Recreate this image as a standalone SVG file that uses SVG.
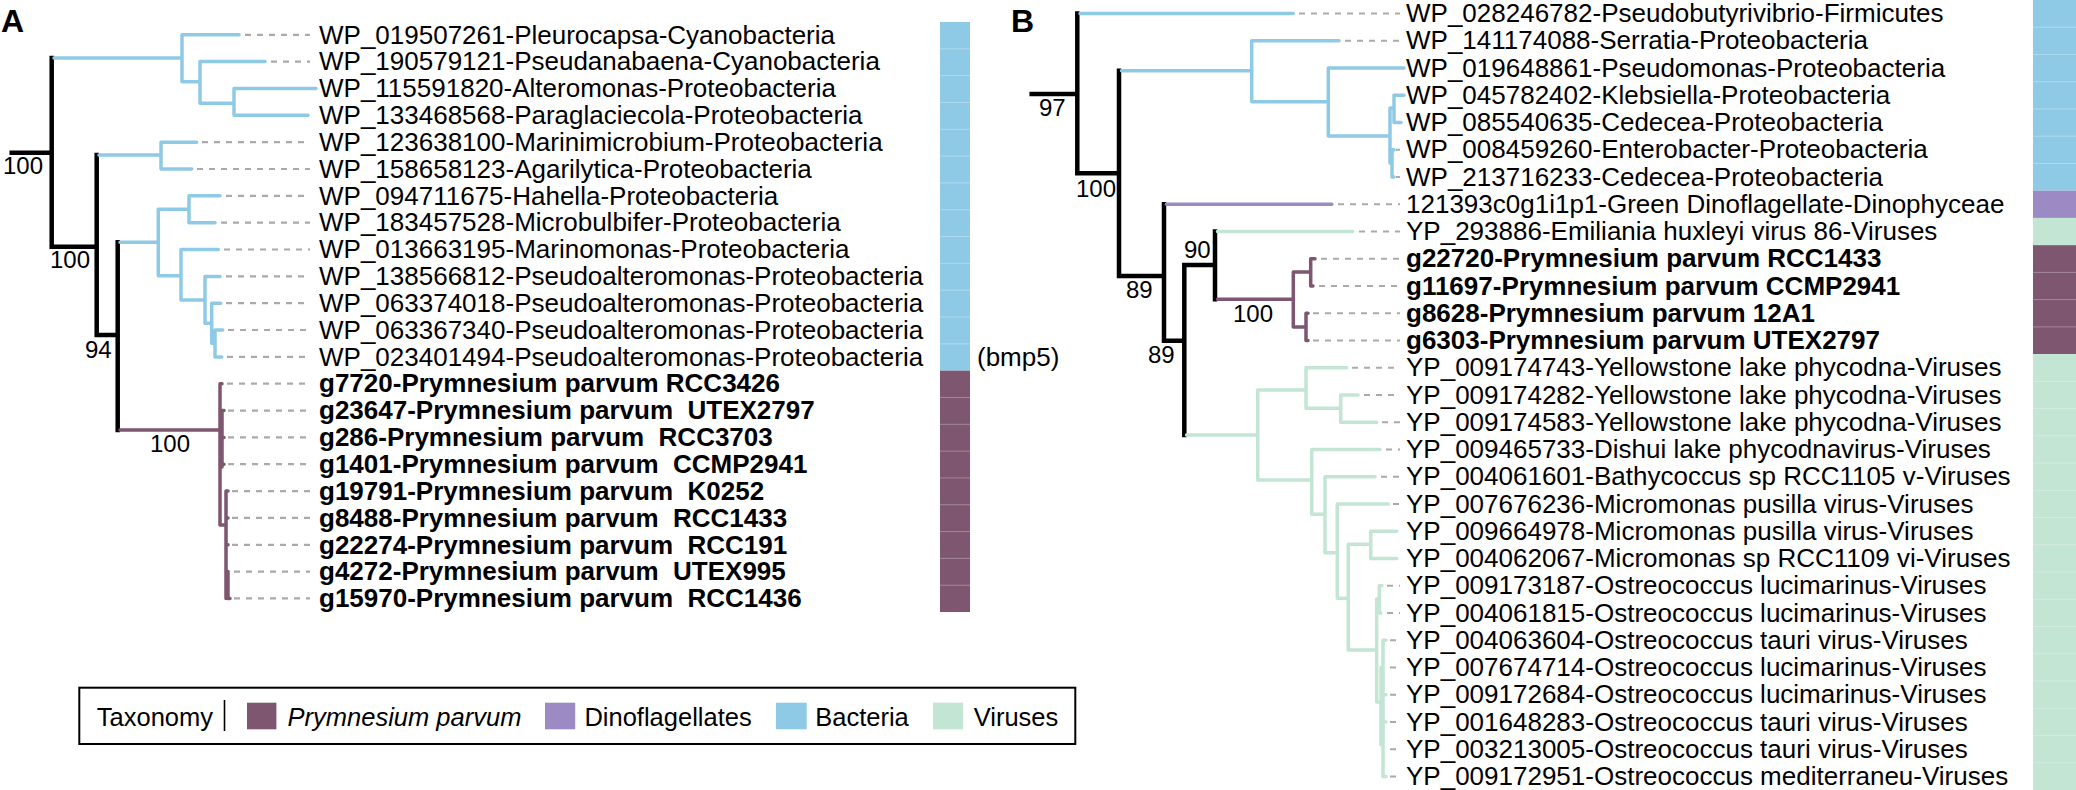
<svg xmlns="http://www.w3.org/2000/svg" width="2076" height="790" viewBox="0 0 2076 790">
<style>
text{font-family:"Liberation Sans",Arial,Helvetica,sans-serif;fill:#000}
.lf{font-size:26px}
.lb{font-size:26px;font-weight:bold}
.bs{font-size:24px}
.pl{font-size:32px;font-weight:bold}
.lg{font-size:25.5px}
.k{fill:none;stroke:#000;stroke-width:4.5;stroke-linecap:square}
.bl{fill:none;stroke:#8ECAE6;stroke-width:3.5;stroke-linecap:round;stroke-linejoin:round}
.pp{fill:none;stroke:#7E5670;stroke-width:3.5;stroke-linecap:round;stroke-linejoin:round}
.dn{fill:none;stroke:#9B8AC4;stroke-width:3.5;stroke-linecap:round}
.vg{fill:none;stroke:#C2E5D4;stroke-width:3.5;stroke-linecap:round;stroke-linejoin:round}
.ds{fill:none;stroke:#AAAAAA;stroke-width:2.2;stroke-dasharray:6 6}
.cB{fill:#8ECAE6}.cP{fill:#7E5670}.cD{fill:#9B8AC4}.cV{fill:#C2E5D4}
.sep{stroke:#ffffff;stroke-opacity:0.3;stroke-width:1}
</style>

<text class="pl" x="1" y="32">A</text>
<text class="pl" x="1011" y="32">B</text>

<g id="connectors">
<!-- Panel A dashes -->
<path class="ds" d="M245,34.8H310M271,61.6H310M202,142.2H310M197,169H310M226,195.8H310M221,222.7H310M224,249.5H310M226,276.4H310M226,303.2H310M228,330H310M227,356.9H310M227,383.7H310M228,410.6H310M228,437.4H310M228,464.2H310M232,491.1H310M232,517.9H310M232,544.8H310M234,571.6H310M234,598.4H310"/>
<!-- Panel A black -->
<path class="k" d="M11.7,152.7H51.7M51.7,58V246.7M51.7,246.7H96.7M96.7,155V335M96.7,335H117.7M117.7,242.3V430"/>
<!-- Panel A bacteria -->
<path class="bl" d="M54,58H182M182,34.8V81.7M182,34.8H239M182,81.7H200M200,61.6V103.3M200,61.6H265M200,103.3H234M234,88.5V115.3M234,88.5H316M234,115.3H308M99,155H161M161,142.2V169M161,142.2H196.7M161,169H191.7M120,242.3H158.3M158.3,209.3V275.7M158.3,209.3H189M189,195.8V222.7M189,195.8H220M189,222.7H215M158.3,275.7H181M181,249.5V300M181,249.5H218.3M181,300H205M205,276.4V323.3M205,276.4H220M205,323.3H211.7M211.7,303.2V343.3M211.7,303.2H220.7M211.7,343.3H215M215,330V356.9M215,330H222.7M215,356.9H221.7"/>
<!-- Panel A Prymnesium -->
<path class="pp" d="M120,430H220M220,383.7V525M220,383.7H222M222,410.6V467M222,410.6H224M222,437.4H224M222,464.2H224M220,525H226M226,491.1V598.4M226,491.1H228M226,517.9H228M226,544.8H228M228,571.6V598.4M228,598.4H230"/>

<!-- Panel B dashes -->
<path class="ds" d="M1299,13.5H1400M1345,40.75H1400M1396,149.75H1400M1396,177H1400M1338,204.25H1400M1359,231.5H1400M1321,258.75H1400M1319,286H1400M1313,313.25H1400M1313,340.5H1400M1352,367.75H1400M1364,395H1400M1382,422.25H1400M1386,449.5H1400M1381,476.75H1400M1393,504H1400M1387,585.75H1400M1387,613H1400M1390,640.25H1400M1390,667.5H1400M1390,694.75H1400M1390,722H1400M1390,749.25H1400M1390,776.5H1400"/>
<!-- Panel B black -->
<path class="k" d="M1031.7,94H1077.3M1077.3,13.5V173.3M1077.3,173.3H1119M1119,70.7V276M1119,276H1164M1164,204.25V340.7M1164,340.7H1184.3M1184.3,265V435M1184.3,265H1215M1215,231.5V299.3"/>
<!-- Panel B bacteria -->
<path class="bl" d="M1080,13.5H1293.3M1121.5,70.7H1251.7M1251.7,40.75V101.7M1251.7,40.75H1339M1251.7,101.7H1328.3M1328.3,68V136M1328.3,68H1404M1328.3,136H1390M1390,108V163M1390,108H1394M1394,95.25V122.5M1394,95.25H1404M1394,122.5H1401M1390,163H1392M1392,149.75V177M1392,149.75H1394M1392,177H1394"/>
<!-- Panel B dinoflagellate -->
<path class="dn" d="M1166.5,204.25H1331.7"/>
<!-- Panel B Prymnesium -->
<path class="pp" d="M1217.5,299.3H1293.3M1293.3,272V327M1293.3,272H1310.7M1310.7,258.75V286M1310.7,258.75H1315M1310.7,286H1313M1293.3,327H1306M1306,313.25V340.5M1306,313.25H1308M1306,340.5H1308"/>
<!-- Panel B viruses -->
<path class="vg" d="M1217.5,231.5H1352.7M1186.5,435H1257.7M1257.7,390V480M1257.7,390H1306M1306,367.75V408.3M1306,367.75H1346.7M1306,408.3H1340.7M1340.7,395V422.25M1340.7,395H1358M1340.7,422.25H1376.7M1257.7,480H1311.7M1311.7,449.5V514.3M1311.7,449.5H1380M1311.7,514.3H1325M1325,476.75V552.7M1325,476.75H1375M1325,552.7H1337.3M1337.3,504V598.3M1337.3,504H1388.3M1337.3,598.3H1348.3M1348.3,544.3V650M1348.3,544.3H1370.7M1370.7,531.25V558.5M1370.7,531.25H1396.7M1370.7,558.5H1396.7M1348.3,650H1376.7M1376.7,599V702M1376.7,599H1379.3M1379.3,585.75V613M1379.3,585.75H1382M1379.3,613H1381M1376.7,702H1381M1381,667.5V745M1381,667.5H1383M1381,745H1383M1383,640.25V776.5M1383,640.25H1386M1383,694.75H1386M1383,722H1386M1383,776.5H1386"/>
</g>

<g id="bootstrap">
<text class="bs" x="3" y="174">100</text>
<text class="bs" x="50" y="268">100</text>
<text class="bs" x="85" y="358">94</text>
<text class="bs" x="150" y="452">100</text>
<text class="bs" x="1039" y="116">97</text>
<text class="bs" x="1076" y="197">100</text>
<text class="bs" x="1126" y="298">89</text>
<text class="bs" x="1148" y="363">89</text>
<text class="bs" x="1184" y="258">90</text>
<text class="bs" x="1233" y="322">100</text>
</g>

<!-- Panel A leaves -->
<g id="A-bar">
<rect class="cB" x="940" y="22" width="30" height="348.66"/>
<rect class="cP" x="940" y="370.66" width="30" height="241.38"/>
<path class="sep" d="M940,48.82H970M940,75.64H970M940,102.46H970M940,129.28H970M940,156.1H970M940,182.92H970M940,209.74H970M940,236.56H970M940,263.38H970M940,290.2H970M940,317.02H970M940,343.84H970M940,397.48H970M940,424.3H970M940,451.12H970M940,477.94H970M940,504.76H970M940,531.58H970M940,558.4H970M940,585.22H970"/>
</g>
<g id="A-leaf-1"><text class="lf" x="319" y="43.5">WP_019507261-Pleurocapsa-Cyanobacteria</text></g>
<g id="A-leaf-2"><text class="lf" x="319" y="70.3">WP_190579121-Pseudanabaena-Cyanobacteria</text></g>
<g id="A-leaf-3"><text class="lf" x="319" y="97.2">WP_115591820-Alteromonas-Proteobacteria</text></g>
<g id="A-leaf-4"><text class="lf" x="319" y="124">WP_133468568-Paraglaciecola-Proteobacteria</text></g>
<g id="A-leaf-5"><text class="lf" x="319" y="150.9">WP_123638100-Marinimicrobium-Proteobacteria</text></g>
<g id="A-leaf-6"><text class="lf" x="319" y="177.7">WP_158658123-Agarilytica-Proteobacteria</text></g>
<g id="A-leaf-7"><text class="lf" x="319" y="204.5">WP_094711675-Hahella-Proteobacteria</text></g>
<g id="A-leaf-8"><text class="lf" x="319" y="231.4">WP_183457528-Microbulbifer-Proteobacteria</text></g>
<g id="A-leaf-9"><text class="lf" x="319" y="258.2">WP_013663195-Marinomonas-Proteobacteria</text></g>
<g id="A-leaf-10"><text class="lf" x="319" y="285.1">WP_138566812-Pseudoalteromonas-Proteobacteria</text></g>
<g id="A-leaf-11"><text class="lf" x="319" y="311.9">WP_063374018-Pseudoalteromonas-Proteobacteria</text></g>
<g id="A-leaf-12"><text class="lf" x="319" y="338.7">WP_063367340-Pseudoalteromonas-Proteobacteria</text></g>
<g id="A-leaf-13"><text class="lf" x="319" y="365.6">WP_023401494-Pseudoalteromonas-Proteobacteria</text></g>
<g id="A-leaf-14"><text class="lb" x="319" y="392.4">g7720-Prymnesium parvum RCC3426</text></g>
<g id="A-leaf-15"><text class="lb" x="319" y="419.3" xml:space="preserve">g23647-Prymnesium parvum  UTEX2797</text></g>
<g id="A-leaf-16"><text class="lb" x="319" y="446.1" xml:space="preserve">g286-Prymnesium parvum  RCC3703</text></g>
<g id="A-leaf-17"><text class="lb" x="319" y="472.9" xml:space="preserve">g1401-Prymnesium parvum  CCMP2941</text></g>
<g id="A-leaf-18"><text class="lb" x="319" y="499.8" xml:space="preserve">g19791-Prymnesium parvum  K0252</text></g>
<g id="A-leaf-19"><text class="lb" x="319" y="526.6" xml:space="preserve">g8488-Prymnesium parvum  RCC1433</text></g>
<g id="A-leaf-20"><text class="lb" x="319" y="553.5" xml:space="preserve">g22274-Prymnesium parvum  RCC191</text></g>
<g id="A-leaf-21"><text class="lb" x="319" y="580.3" xml:space="preserve">g4272-Prymnesium parvum  UTEX995</text></g>
<g id="A-leaf-22"><text class="lb" x="319" y="607.1" xml:space="preserve">g15970-Prymnesium parvum  RCC1436</text></g>
<g id="A-bmp5"><text class="lf" x="977" y="365.6">(bmp5)</text></g>

<!-- Panel B leaves -->
<g id="B-bar">
<rect class="cB" x="2033" y="0" width="50" height="190.68"/>
<rect class="cD" x="2033" y="190.68" width="50" height="27.24"/>
<rect class="cV" x="2033" y="217.92" width="50" height="27.24"/>
<rect class="cP" x="2033" y="245.16" width="50" height="108.96"/>
<rect class="cV" x="2033" y="354.12" width="50" height="435.88"/>
<path class="sep" d="M2033,27.24H2076M2033,54.48H2076M2033,81.72H2076M2033,108.96H2076M2033,136.2H2076M2033,163.44H2076M2033,272.4H2076M2033,299.64H2076M2033,326.88H2076M2033,381.36H2076M2033,408.6H2076M2033,435.84H2076M2033,463.08H2076M2033,490.32H2076M2033,517.56H2076M2033,544.8H2076M2033,572.04H2076M2033,599.28H2076M2033,626.52H2076M2033,653.76H2076M2033,681H2076M2033,708.24H2076M2033,735.48H2076M2033,762.72H2076"/>
</g>
<g id="B-leaf-1"><text class="lf" x="1406" y="22.2">WP_028246782-Pseudobutyrivibrio-Firmicutes</text></g>
<g id="B-leaf-2"><text class="lf" x="1406" y="49.45">WP_141174088-Serratia-Proteobacteria</text></g>
<g id="B-leaf-3"><text class="lf" x="1406" y="76.7">WP_019648861-Pseudomonas-Proteobacteria</text></g>
<g id="B-leaf-4"><text class="lf" x="1406" y="103.95">WP_045782402-Klebsiella-Proteobacteria</text></g>
<g id="B-leaf-5"><text class="lf" x="1406" y="131.2">WP_085540635-Cedecea-Proteobacteria</text></g>
<g id="B-leaf-6"><text class="lf" x="1406" y="158.45">WP_008459260-Enterobacter-Proteobacteria</text></g>
<g id="B-leaf-7"><text class="lf" x="1406" y="185.7">WP_213716233-Cedecea-Proteobacteria</text></g>
<g id="B-leaf-8"><text class="lf" x="1406" y="212.95">121393c0g1i1p1-Green Dinoflagellate-Dinophyceae</text></g>
<g id="B-leaf-9"><text class="lf" x="1406" y="240.2">YP_293886-Emiliania huxleyi virus 86-Viruses</text></g>
<g id="B-leaf-10"><text class="lb" x="1406" y="267.45">g22720-Prymnesium parvum RCC1433</text></g>
<g id="B-leaf-11"><text class="lb" x="1406" y="294.7">g11697-Prymnesium parvum CCMP2941</text></g>
<g id="B-leaf-12"><text class="lb" x="1406" y="321.95">g8628-Prymnesium parvum 12A1</text></g>
<g id="B-leaf-13"><text class="lb" x="1406" y="349.2">g6303-Prymnesium parvum UTEX2797</text></g>
<g id="B-leaf-14"><text class="lf" x="1406" y="376.45">YP_009174743-Yellowstone lake phycodna-Viruses</text></g>
<g id="B-leaf-15"><text class="lf" x="1406" y="403.7">YP_009174282-Yellowstone lake phycodna-Viruses</text></g>
<g id="B-leaf-16"><text class="lf" x="1406" y="430.95">YP_009174583-Yellowstone lake phycodna-Viruses</text></g>
<g id="B-leaf-17"><text class="lf" x="1406" y="458.2">YP_009465733-Dishui lake phycodnavirus-Viruses</text></g>
<g id="B-leaf-18"><text class="lf" x="1406" y="485.45">YP_004061601-Bathycoccus sp RCC1105 v-Viruses</text></g>
<g id="B-leaf-19"><text class="lf" x="1406" y="512.7">YP_007676236-Micromonas pusilla virus-Viruses</text></g>
<g id="B-leaf-20"><text class="lf" x="1406" y="539.95">YP_009664978-Micromonas pusilla virus-Viruses</text></g>
<g id="B-leaf-21"><text class="lf" x="1406" y="567.2">YP_004062067-Micromonas sp RCC1109 vi-Viruses</text></g>
<g id="B-leaf-22"><text class="lf" x="1406" y="594.45">YP_009173187-Ostreococcus lucimarinus-Viruses</text></g>
<g id="B-leaf-23"><text class="lf" x="1406" y="621.7">YP_004061815-Ostreococcus lucimarinus-Viruses</text></g>
<g id="B-leaf-24"><text class="lf" x="1406" y="648.95">YP_004063604-Ostreococcus tauri virus-Viruses</text></g>
<g id="B-leaf-25"><text class="lf" x="1406" y="676.2">YP_007674714-Ostreococcus lucimarinus-Viruses</text></g>
<g id="B-leaf-26"><text class="lf" x="1406" y="703.45">YP_009172684-Ostreococcus lucimarinus-Viruses</text></g>
<g id="B-leaf-27"><text class="lf" x="1406" y="730.7">YP_001648283-Ostreococcus tauri virus-Viruses</text></g>
<g id="B-leaf-28"><text class="lf" x="1406" y="757.95">YP_003213005-Ostreococcus tauri virus-Viruses</text></g>
<g id="B-leaf-29"><text class="lf" x="1406" y="785.2">YP_009172951-Ostreococcus mediterraneu-Viruses</text></g>

<!-- Legend -->
<g id="legend">
<rect x="79.3" y="687.7" width="996" height="56.3" fill="#fff" stroke="#000" stroke-width="2"/>
<text class="lg" x="96.8" y="725.5">Taxonomy</text>
<line x1="224.5" y1="700" x2="224.5" y2="731" stroke="#000" stroke-width="1.6"/>
<rect class="cP" x="247" y="702.7" width="29.4" height="26.6"/>
<text class="lg" x="287.6" y="725.5" font-style="italic">Prymnesium parvum</text>
<rect class="cD" x="545" y="702.7" width="30.2" height="26.6"/>
<text class="lg" x="584.4" y="725.5">Dinoflagellates</text>
<rect class="cB" x="775.9" y="702.7" width="30.8" height="26.6"/>
<text class="lg" x="815.2" y="725.5">Bacteria</text>
<rect class="cV" x="933" y="702.7" width="30.2" height="26.6"/>
<text class="lg" x="973.7" y="725.5">Viruses</text>
</g>
</svg>
